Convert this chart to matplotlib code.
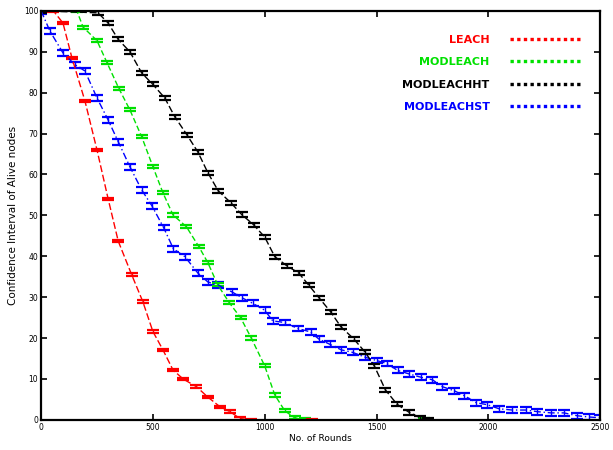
import matplotlib.pyplot as plt
from matplotlib.lines import Line2D

# alive-node confidence intervals per protocol, sampled along the rounds axis
leach_x = [0, 55, 98, 138, 196, 250, 300, 345, 405, 455,
           500, 545, 590, 635, 695, 745, 800, 845, 890, 940, 1210]
leach_y = [100, 100, 97, 88.5, 78, 66, 54, 43.7, 35.5, 28.9,
           21.6, 17.1, 12.2, 10, 8.1, 5.6, 3.2, 2, 0.3, 0, 0]

modleach_x = [0, 160, 188, 250, 295, 348, 397, 450, 500, 545,
              590, 650, 706, 746, 790, 842, 892, 940, 1000, 1045,
              1090, 1134, 1180, 1714]
modleach_y = [100, 100, 96, 92.7, 87.3, 81, 75.8, 69.2, 61.9, 55.5,
              50.1, 47.2, 42.3, 38.4, 33, 28.6, 25, 20, 13.2, 6.1,
              2.2, 0.5, 0, 0]

modleachht_x = [0, 255, 300, 345, 397, 450, 500, 553, 598, 652,
                701, 746, 792, 850, 897, 950, 1000, 1045, 1098, 1152,
                1196, 1245, 1295, 1340, 1398, 1450, 1491, 1540, 1592, 1647,
                1696, 1730]
modleachht_y = [100, 99.5, 97, 93, 90, 84.8, 82, 78.7, 74.1, 69.7,
                65.5, 60.4, 56, 53, 50.2, 47.7, 44.7, 39.9, 37.7, 35.9,
                33, 29.7, 26.4, 22.8, 19.8, 16.5, 13.1, 7.3, 3.8, 1.8,
                0.5, 0]

modleachst_x = [0, 40, 98, 152, 196, 250, 300, 345, 397, 450,
                496, 548, 592, 643, 701, 746, 790, 853, 900, 946,
                1000, 1036, 1089, 1150, 1205, 1241, 1290, 1343, 1393, 1450,
                1500, 1545, 1594, 1647, 1700, 1750, 1795, 1848, 1893, 1946,
                1995, 2049, 2107, 2170, 2219, 2281, 2339, 2397, 2451, 2500]
modleachst_y = [100, 95, 89.7, 86.8, 85.3, 78.7, 73.3, 68, 61.9, 56.2,
                52.3, 47, 41.8, 39.9, 35.9, 33.7, 33, 31.3, 29.8, 28.5,
                26.8, 24.2, 23.8, 22.3, 21.5, 19.8, 18.5, 17.1, 16.5, 15.3,
                14.5, 13.8, 12.1, 11.2, 10.4, 9.8, 8.1, 7.1, 5.9, 4.2,
                3.7, 2.7, 2.4, 2.4, 2, 1.7, 1.7, 1, 0.7, 0.5]

# half-width of each interval
leach_err = 0.3
modleach_err = 0.4
modleachht_err = 0.5
modleachst_err = 0.7

labels = ["LEACH", "MODLEACH", "MODLEACHHT", "MODLEACHST"]
colors = ["#ff0000", "#00e000", "#000000", "#0000ff"]

fig = plt.figure(figsize=(6.13, 4.5), dpi=100)
ax = fig.add_axes([0.067, 0.067, 0.912, 0.909])

series = [
    (modleachst_x, modleachst_y, modleachst_err, colors[3], (0, (5, 2, 1, 2))),
    (modleach_x, modleach_y, modleach_err, colors[1], (0, (4, 2))),
    (leach_x, leach_y, leach_err, colors[0], (0, (5, 2))),
    (modleachht_x, modleachht_y, modleachht_err, colors[2], (0, (5, 2))),
]
for x, y, err, c, ls in series:
    eb = ax.errorbar(x, y, yerr=err, color=c, linewidth=1.0, elinewidth=1.0,
                     capsize=4.5, capthick=1.6)
    eb[0].set_linestyle(ls)

ax.set_xlim(0, 2500)
ax.set_ylim(0, 100)
ax.set_xticks(range(0, 2501, 500))
ax.set_yticks(range(0, 101, 10))
ax.tick_params(direction="in", top=True, right=True, length=4, width=1.2,
               labelsize=5.5, pad=2)
for s in ax.spines.values():
    s.set_linewidth(1.6)

ax.set_xlabel("No. of Rounds", fontsize=6.5, labelpad=2)
ax.set_ylabel("Confidence Interval of Alive nodes", fontsize=7.5, labelpad=4)

handles = [Line2D([], [], color=c, linestyle=(0, (1, 1.0)), linewidth=2.4)
           for c in colors]
leg = ax.legend(handles, labels, loc="upper right", frameon=False,
                markerfirst=False, handlelength=6.5, handletextpad=1.8,
                labelspacing=1.1, labelcolor=colors,
                bbox_to_anchor=(0.985, 0.965), prop={"weight": "bold", "size": 8})

plt.savefig("out.png", dpi=100)
